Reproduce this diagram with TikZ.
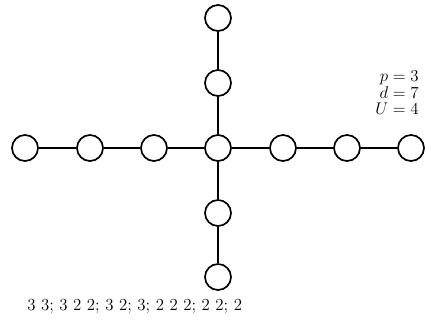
\documentclass[tikz,border=0pt]{standalone}
\usetikzlibrary{positioning}

\tikzset{
  vtx/.style={draw,circle,line width=1.2pt,minimum size=0.65cm,inner sep=0pt},
  edge/.style={line width=2.1pt}
}

\begin{document}
\begin{tikzpicture}
  \useasboundingbox (-5.45,-4.4) rectangle (5.325,3.7);

  %% Centre vertex
  \node[vtx] (c) at (0,0) {};

  %% Left arm
  \node[vtx] (l1) at (-1.6, 0) {};
  \node[vtx] (l2) at (-3.2, 0) {};
  \node[vtx] (l3) at (-4.825,0) {};

  %% Right arm
  \node[vtx] (r1) at (1.625,0) {};
  \node[vtx] (r2) at (3.225,0) {};
  \node[vtx] (r3) at (4.825,0) {};

  %% Upper arm
  \node[vtx] (u1) at (0, 1.625) {};
  \node[vtx] (u2) at (0, 3.25) {};

  %% Lower arm
  \node[vtx] (d1) at (0,-1.625) {};
  \node[vtx] (d2) at (0,-3.225) {};

  %% Edges
  \draw[edge] (c) -- (l1);
  \draw[edge] (l1) -- (l2);
  \draw[edge] (l2) -- (l3);
  \draw[edge] (c) -- (r1);
  \draw[edge] (r1) -- (r2);
  \draw[edge] (r2) -- (r3);
  \draw[edge] (c) -- (u1);
  \draw[edge] (u1) -- (u2);
  \draw[edge] (c) -- (d1);
  \draw[edge] (d1) -- (d2);

  %% Parameters
  \node[anchor=north east,align=right,inner sep=0pt,
        font=\fontsize{12}{12}\selectfont] (par) at (5.025,1.95)
        {$p=3$\\$d=7$\\$U=4$};

  %% Sequence label
  \node[anchor=west,inner sep=0pt,font=\fontsize{12}{14}\selectfont]
        (seq) at (-4.775,-3.975)
        {3 3; 3 2 2; 3 2; 3; 2 2 2; 2 2; 2};
\end{tikzpicture}
\end{document}
